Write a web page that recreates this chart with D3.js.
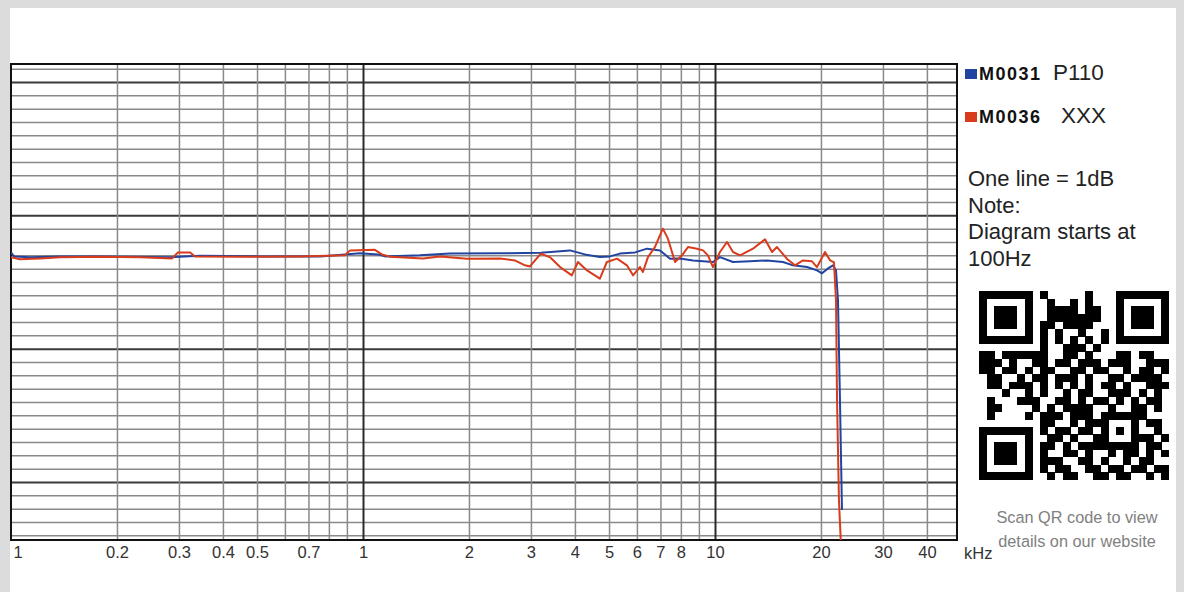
<!DOCTYPE html>
<html>
<head>
<meta charset="utf-8">
<script src="https://cdn.jsdelivr.net/npm/d3@7"></script>
<style>
  body { margin: 0; background: #dcdcdc; }
  svg { display: block; }
  text { font-family: "Liberation Sans", Arial, sans-serif; }
</style>
</head>
<body>
<div id="content"></div>
<script>
const svgWidth = 1184, svgHeight = 592;

// frequency grid (kHz) and labelled ticks
const gridFreqs = [0.2, 0.3, 0.4, 0.5, 0.6, 0.7, 0.8, 0.9, 1, 2, 3, 4, 5, 6, 7, 8, 9, 10, 20, 30, 40];
const majorFreqs = [1, 10];
const labelFreqs = [0.1, 0.2, 0.3, 0.4, 0.5, 0.7, 1, 2, 3, 4, 5, 6, 7, 8, 10, 20, 30, 40];
const labelTexts = ["1", "0.2", "0.3", "0.4", "0.5", "0.7", "1", "2", "3", "4", "5", "6", "7", "8", "10", "20", "30", "40"];
// one line = 1 dB
const dbLines = d3.range(-24, 12);
const majorDb = [-20, -10, 0, 10];

// M0031 P110 (blue)
const blueFreq = [0.1, 0.102, 0.113, 0.138, 0.179, 0.283, 0.344, 0.51, 0.755, 0.889, 0.98, 1.103, 1.155, 1.452, 1.766, 2.45, 3.2, 3.87, 4.27, 4.71, 5.03, 5.37, 5.93, 6.41, 6.98, 7.45, 7.95, 8.66, 9.87, 10.33, 11.25, 12.57, 14.05, 15.6, 16.66, 18.26, 19.49, 20.14, 20.94, 21.64, 22.07, 22.36, 22.65, 22.95];
const blueDb = [-2.78, -3.08, -3.15, -3.08, -3.08, -3.15, -3.04, -3.08, -3.08, -2.93, -2.85, -2.93, -3.08, -3.0, -2.87, -2.85, -2.8, -2.63, -2.93, -3.13, -3.08, -2.87, -2.78, -2.5, -2.63, -3.25, -3.23, -3.38, -3.5, -3.13, -3.5, -3.45, -3.38, -3.5, -3.75, -3.88, -4.13, -4.35, -3.98, -3.75, -4.13, -6.4, -13.9, -22.1];

// M0036 XXX (red)
const redFreq = [0.1, 0.106, 0.121, 0.138, 0.179, 0.233, 0.287, 0.298, 0.323, 0.333, 0.447, 0.662, 0.889, 0.919, 1.081, 1.132, 1.193, 1.48, 1.655, 1.975, 2.45, 2.70, 2.885, 2.98, 3.2, 3.40, 3.63, 3.92, 4.08, 4.33, 4.71, 4.93, 5.27, 5.62, 5.85, 6.12, 6.24, 6.45, 6.75, 7.11, 7.35, 7.70, 8.06, 8.38, 8.89, 9.25, 9.55, 9.87, 10.33, 10.82, 11.25, 11.78, 12.82, 13.87, 14.52, 15.0, 16.0, 16.87, 17.78, 18.86, 19.49, 20.54, 21.24, 21.78, 22.07, 22.22, 22.5, 22.8];
const redDb = [-3.15, -3.3, -3.23, -3.15, -3.11, -3.15, -3.23, -2.78, -2.78, -3.08, -3.11, -3.08, -3.0, -2.63, -2.59, -2.93, -3.11, -3.23, -3.08, -3.25, -3.23, -3.38, -3.75, -3.83, -2.87, -3.15, -3.88, -4.5, -3.5, -4.13, -4.75, -3.5, -3.25, -3.75, -4.5, -3.88, -4.25, -3.13, -2.38, -1.0, -1.75, -3.5, -3.0, -2.38, -2.5, -2.63, -3.0, -3.88, -2.75, -2.0, -2.75, -3.0, -2.5, -1.8, -2.75, -2.38, -3.25, -3.75, -3.38, -3.45, -3.88, -2.75, -3.38, -3.53, -6.4, -13.9, -21.4, -24.75];

const seriesNames = ["M0031", "M0036"];
const seriesTags = ["P110", "XXX"];
const seriesColors = ["#2144a0", "#d83c1c"];
const noteLines = ["One line = 1dB", "Note:", "Diagram starts at", "100Hz"];
const scanLines = ["Scan QR code to view", "details on our website"];

// QR code modules (25 x 25)
const qrRows = [
  "1111111010000010001111111",
  "1000001001001010001000001",
  "1011101001111011001011101",
  "1011101001111111001011101",
  "1011101011011110001011101",
  "1000001010100100101000001",
  "1111111010101010101111111",
  "0000000010011101000000000",
  "1101111110011010001101100",
  "1110100110110111011100111",
  "1101101011001101100101101",
  "0110010110111010011011110",
  "0110111010101010110100111",
  "0001001010010110011101010",
  "0100011100110101101010110",
  "0110000101011110010011010",
  "0100001011101110111111000",
  "0000000011001011100010110",
  "1111111010110110101010010",
  "1000001001101001100011101",
  "1011101011010111111110110",
  "1011101010011010010110101",
  "1011101011100110100101100",
  "1000001010110011011011011",
  "1111111001011001101100101"
];

const svg = d3.select("#content").append("svg")
  .attr("width", svgWidth)
  .attr("height", svgHeight);

svg.append("rect")
  .attr("x", 10).attr("y", 8)
  .attr("width", 1166).attr("height", svgHeight - 8)
  .attr("fill", "#fff");

const x = d3.scaleLog().domain([0.1, 48.7]).range([11, 957]);
const y = d3.scaleLinear().domain([11.35, -24.35]).range([64, 540]);

// horizontal grid
svg.append("g")
  .attr("transform", "translate(11,0)")
  .call(d3.axisLeft(y).tickValues(dbLines).tickSize(-946).tickFormat(""))
  .call(g => g.select(".domain").remove())
  .call(g => g.selectAll(".tick line")
    .attr("stroke", d => majorDb.includes(d) ? "#3a3a3a" : "#8a8a8a")
    .attr("stroke-width", d => majorDb.includes(d) ? 2 : 1.5));

// vertical grid
svg.append("g")
  .attr("transform", "translate(0,540)")
  .call(d3.axisBottom(x).tickValues(gridFreqs).tickSize(-476).tickFormat(""))
  .call(g => g.select(".domain").remove())
  .call(g => g.selectAll(".tick line")
    .attr("stroke", d => majorFreqs.includes(d) ? "#2a2a2a" : "#8a8a8a")
    .attr("stroke-width", d => majorFreqs.includes(d) ? 2 : 1.5));

// frame
svg.append("rect")
  .attr("x", 11).attr("y", 64)
  .attr("width", 946).attr("height", 476)
  .attr("fill", "none")
  .attr("stroke", "#111")
  .attr("stroke-width", 2);

// x labels
const xLab = svg.append("g")
  .attr("transform", "translate(0,543)")
  .call(d3.axisBottom(x).tickValues(labelFreqs).tickSize(0)
    .tickFormat((d, i) => labelTexts[i]))
  .call(g => g.select(".domain").remove());
xLab.selectAll(".tick text")
  .attr("font-family", "'Liberation Sans', Arial, sans-serif")
  .attr("font-size", 16.5)
  .attr("fill", "#333")
  .attr("dy", "0.72em");
xLab.select(".tick text")
  .attr("text-anchor", "start")
  .attr("x", 2);

svg.append("text")
  .attr("x", 964).attr("y", 559)
  .attr("font-size", 16.5)
  .attr("fill", "#333")
  .text("kHz");

// curves
svg.append("clipPath").attr("id", "plotClip")
  .append("rect").attr("x", 11).attr("y", 64).attr("width", 946).attr("height", 476);

const line = d3.line().x(d => x(d[0])).y(d => y(d[1]));
const blueData = blueFreq.map((f, i) => [f, blueDb[i]]);
const redData = redFreq.map((f, i) => [f, redDb[i]]);

const curves = svg.append("g").attr("clip-path", "url(#plotClip)");
curves.append("path")
  .datum(blueData)
  .attr("d", line)
  .attr("fill", "none")
  .attr("stroke", seriesColors[0])
  .attr("stroke-width", 2)
  .attr("stroke-linejoin", "round");
curves.append("path")
  .datum(redData)
  .attr("d", line)
  .attr("fill", "none")
  .attr("stroke", seriesColors[1])
  .attr("stroke-width", 2)
  .attr("stroke-linejoin", "round");

// legend
const leg = svg.append("g");
seriesNames.forEach((name, i) => {
  const yy = i === 0 ? 80 : 123;
  leg.append("rect")
    .attr("x", 965).attr("y", yy - 11)
    .attr("width", 12).attr("height", 10)
    .attr("fill", seriesColors[i]);
  leg.append("text")
    .attr("x", 979).attr("y", yy)
    .attr("font-size", 18).attr("font-weight", "bold")
    .attr("letter-spacing", 1.5)
    .attr("fill", "#111")
    .text(name);
  leg.append("text")
    .attr("x", i === 0 ? 1053 : 1061).attr("y", yy)
    .attr("font-size", 22.5)
    .attr("fill", "#222")
    .text(seriesTags[i]);
});

noteLines.forEach((t, i) => {
  svg.append("text")
    .attr("x", 968).attr("y", 186 + i * 26.7)
    .attr("font-size", 22)
    .attr("fill", "#222")
    .text(t);
});

// QR code
const mod = 7.6, qx = 979, qy = 291;
const cells = [];
qrRows.forEach((row, r) => row.split("").forEach((c, k) => { if (c === "1") cells.push([k, r]); }));
svg.append("g").attr("shape-rendering", "crispEdges")
  .selectAll("rect").data(cells).enter().append("rect")
  .attr("x", d => qx + d[0] * mod)
  .attr("y", d => qy + d[1] * 7.55)
  .attr("width", mod + 0.3)
  .attr("height", 7.85)
  .attr("fill", "#000");

scanLines.forEach((t, i) => {
  svg.append("text")
    .attr("x", 1077).attr("y", 523 + i * 24)
    .attr("text-anchor", "middle")
    .attr("font-family", "'Open Sans', sans-serif")
    .attr("font-size", 16.3)
    .attr("fill", "#808080")
    .text(t);
});
</script>
</body>
</html>
